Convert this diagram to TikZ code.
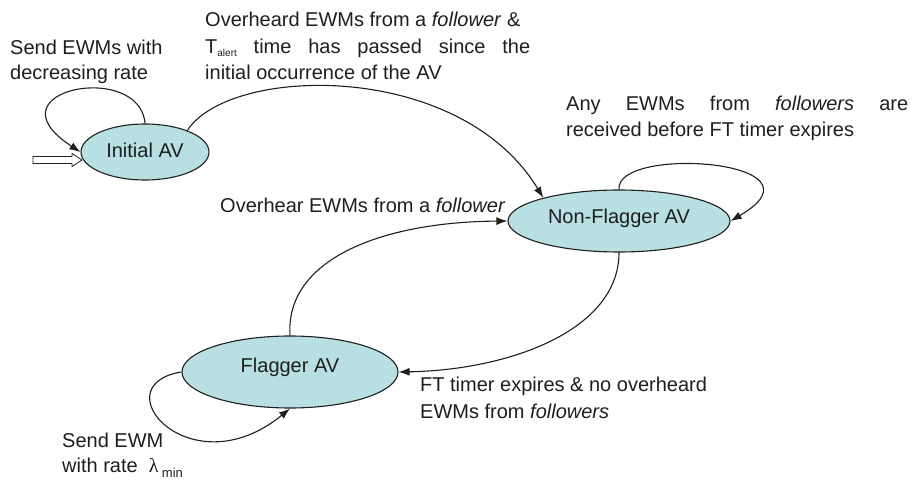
\documentclass[tikz,border=0pt]{standalone}
\usepackage{fontspec}
\setmainfont{Liberation Sans}
\newfontfamily\lamfont{Liberation Serif}
\usetikzlibrary{arrows.meta,shapes.geometric,calc}
\definecolor{statefill}{RGB}{184,224,226}
\definecolor{ink}{RGB}{30,30,30}
\begin{document}
\begin{tikzpicture}[x=1pt,y=-1pt,
  state/.style={ellipse,draw=ink,line width=1.1pt,fill=statefill,inner sep=0pt,
    font=\fontsize{20}{25}\selectfont,text=ink},
  txt/.style={anchor=base west,inner sep=0pt,font=\fontsize{20}{25}\selectfont,text=ink},
  trans/.style={draw=ink,line width=1.1pt,-{Latex[length=11pt,width=8pt]}}]
\useasboundingbox (0,0) rectangle (911,484);

% states
\node[state,minimum width=128pt,minimum height=56pt] (init) at (145,152)
  {\raisebox{-6pt}[0pt][0pt]{Initial AV}};
\node[state,minimum width=222pt,minimum height=62pt] (nf) at (619,221)
  {\raisebox{-2pt}[0pt][0pt]{Non-Flagger AV}};
\node[state,minimum width=216pt,minimum height=72pt] (fl) at (290,372)
  {\raisebox{0pt}[0pt][0pt]{Flagger AV}};

% initial-state marker (hollow arrow)
\coordinate (entry) at (33,160);
\draw[ink,line width=0.8pt,fill=white] ($(entry)+(0,-3.5)$) -- ++(39,0) -- ++(0,-3)
  -- ($(entry)+(49,0)$) -- ($(entry)+(39,6.5)$) -- ++(0,-3) -- ($(entry)+(0,3.5)$) -- cycle;

% transitions
\draw[trans] (init.north) .. controls (140,60) and (-15,90) .. (init.west);
\draw[trans] (init.27) .. controls (230,65) and (460,60) .. (nf.163);
\draw[trans] (nf.north) .. controls (615,145) and (835,160) .. (nf.east);
\draw[trans] (fl.north) .. controls (285,260) and (380,222) .. (nf.west);
\draw[trans] (nf.south) .. controls (619,330) and (510,370) .. (fl.east);
\draw[trans] (fl.west) .. controls (100,385) and (190,490) .. (fl.south);

% labels
\node[txt] (t1a) at (10,55) {Send EWMs with};
\node[txt] (t1b) at (10,80) {decreasing rate};
\node[txt] (t2a) at (205,27) {Overheard EWMs from a \textit{follower} \&};
\node[txt] (t2b) at (205,53.5) {\makebox[325pt][s]{T\raisebox{-3pt}{\fontsize{10}{10}\selectfont alert} time has passed since the}};
\node[txt] (t2c) at (205,80) {initial occurrence of the AV};
\node[txt] (t3a) at (566,111) {\makebox[342pt][s]{Any EWMs from \textit{followers} are}};
\node[txt] (t3b) at (566,136.5) {received before FT timer expires};
\node[txt] (t4) at (220,212) {Overhear EWMs from a \textit{follower}};
\node[txt] (t5a) at (420,391) {FT timer expires \& no overheard};
\node[txt] (t5b) at (420,418) {EWMs from \textit{followers}};
\node[txt] (t6a) at (62,447) {Send EWM};
\node[txt] (t6b) at (62,472) {with rate\ \ {\lamfont λ}\,\raisebox{-5pt}{\fontsize{13}{13}\selectfont min}};
\end{tikzpicture}
\end{document}
